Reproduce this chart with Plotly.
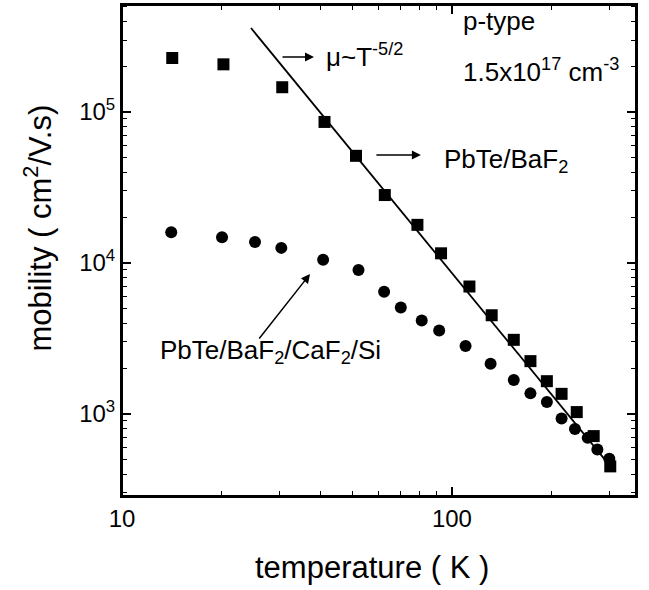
import plotly.graph_objects as go

# Data
T_baf2 = [14.2, 20.3, 30.6, 41.1, 51.2, 62.6, 78.6, 92.7, 113, 132, 154, 173, 194, 215, 239, 269, 302]
mu_baf2 = [2.28e5, 2.07e5, 1.46e5, 8.6e4, 5.13e4, 2.82e4, 1.79e4, 1.16e4, 6.99e3, 4.51e3,
           3.10e3, 2.24e3, 1.65e3, 1.36e3, 1.03e3, 714, 450]

T_si = [14.1, 20.1, 25.3, 30.4, 40.7, 52.1, 62.3, 70.0, 81.0, 91.5, 110, 131, 154, 173, 194,
        215, 236, 258, 276, 300]
mu_si = [1.6e4, 1.48e4, 1.38e4, 1.26e4, 1.05e4, 9.0e3, 6.46e3, 5.07e3, 4.16e3, 3.58e3,
         2.82e3, 2.15e3, 1.68e3, 1.37e3, 1.2e3, 933, 795, 695, 582, 505]

T_fit = [24.6, 305]
mu_fit = [3.6e5, 440]

x_tickvals = [10, 100]
x_ticktext = ["10", "100"]
x_minor = [20, 30, 40, 50, 60, 70, 80, 90, 200, 300]
y_tickvals = [1e3, 1e4, 1e5]
y_ticktext = ["10<sup>3</sup>", "10<sup>4</sup>", "10<sup>5</sup>"]
y_minor = [300, 400, 500, 600, 700, 800, 900,
           2e3, 3e3, 4e3, 5e3, 6e3, 7e3, 8e3, 9e3,
           2e4, 3e4, 4e4, 5e4, 6e4, 7e4, 8e4, 9e4,
           2e5, 3e5, 4e5, 5e5]

FONT = "Liberation Sans, Arial, sans-serif"
XR = [1, 2.558]
YR = [2.457, 5.709]

fig = go.Figure()
fig.add_trace(go.Scatter(x=T_fit, y=mu_fit, mode="lines",
                         line=dict(color="black", width=1.8), showlegend=False, hoverinfo="skip"))
fig.add_trace(go.Scatter(x=T_baf2, y=mu_baf2, mode="markers",
                         marker=dict(symbol="square", size=12, color="black"), showlegend=False))
fig.add_trace(go.Scatter(x=T_si, y=mu_si, mode="markers",
                         marker=dict(symbol="circle", size=12, color="black"), showlegend=False))
# invisible trace to activate the mirrored (top/right) axes
fig.add_trace(go.Scatter(x=T_fit, y=mu_fit, mode="markers", xaxis="x2", yaxis="y2",
                         marker=dict(opacity=0), showlegend=False, hoverinfo="skip"))


def axis(rng, tv, tt, minor_vals, **kw):
    d = dict(type="log", range=rng, tickmode="array", tickvals=tv,
             showgrid=False, zeroline=False, showline=True, linecolor="black", linewidth=2,
             ticks="inside", ticklen=9, tickwidth=1.5, tickcolor="black",
             tickfont=dict(family=FONT, size=24, color="black"),
             minor=dict(tickmode="array", tickvals=minor_vals, ticks="inside", ticklen=5,
                        tickwidth=1.2, tickcolor="black", showgrid=False))
    if tt is not None:
        d["ticktext"] = tt
    d.update(kw)
    return d


fig.update_layout(
    width=649, height=590,
    margin=dict(l=122, r=13, t=5, b=94),
    paper_bgcolor="white", plot_bgcolor="white",
    font=dict(family=FONT, color="black"),
    xaxis=axis(XR, x_tickvals, x_ticktext, x_minor),
    yaxis=axis(YR, y_tickvals, y_ticktext, y_minor),
    xaxis2=axis(XR, x_tickvals, None, x_minor, overlaying="x", side="top", anchor="y",
                showticklabels=False),
    yaxis2=axis(YR, y_tickvals, None, y_minor, overlaying="y", side="right", anchor="x",
                showticklabels=False),
    shapes=[dict(type="rect", xref="paper", yref="paper", x0=0, x1=1, y0=0, y1=1,
                 line=dict(color="black", width=2), layer="above")],
)

ann_font = dict(family=FONT, size=26, color="black")
annotations = [
    dict(x=1.612, y=5.377, text="μ~T<sup>-5/2</sup>", showarrow=False, xanchor="left", yanchor="middle"),
    dict(x=2.027, y=5.603, text="p-type", showarrow=False, xanchor="left", yanchor="middle"),
    dict(x=2.027, y=5.278, text="1.5x10<sup>17</sup> cm<sup>-3</sup>", showarrow=False,
         xanchor="left", yanchor="middle"),
    dict(x=1.970, y=4.682, text="PbTe/BaF<sub>2</sub>", showarrow=False, xanchor="left", yanchor="middle"),
    dict(x=1.109, y=3.411, text="PbTe/BaF<sub>2</sub>/CaF<sub>2</sub>/Si", showarrow=False,
         xanchor="left", yanchor="middle"),
    dict(x=1.582, y=5.364, ax=-33, ay=0, text="", showarrow=True, arrowhead=2, arrowsize=1.2,
         arrowwidth=1.5, arrowcolor="black"),
    dict(x=1.906, y=4.715, ax=-46, ay=0, text="", showarrow=True, arrowhead=2, arrowsize=1.2,
         arrowwidth=1.5, arrowcolor="black"),
    dict(x=1.570, y=3.927, ax=-52, ay=66, text="", showarrow=True, arrowhead=2, arrowsize=1.2,
         arrowwidth=1.5, arrowcolor="black"),
]
for a in annotations:
    a.update(xref="x", yref="y", font=ann_font)

# axis titles
annotations.append(dict(xref="paper", yref="paper", x=0.486, y=-0.145, text="temperature ( K )",
                        showarrow=False, xanchor="center", yanchor="middle",
                        font=dict(family=FONT, size=31, color="black")))
annotations.append(dict(xref="paper", yref="paper", x=-0.163, y=0.545,
                        text="mobility ( cm<sup>2</sup>/V.s)", textangle=-90,
                        showarrow=False, xanchor="center", yanchor="middle",
                        font=dict(family=FONT, size=31, color="black")))

fig.update_layout(annotations=annotations)

fig.write_html("out.html", config={"displayModeBar": False},
               post_script="document.body.style.margin='0';document.body.style.overflow='hidden';")
